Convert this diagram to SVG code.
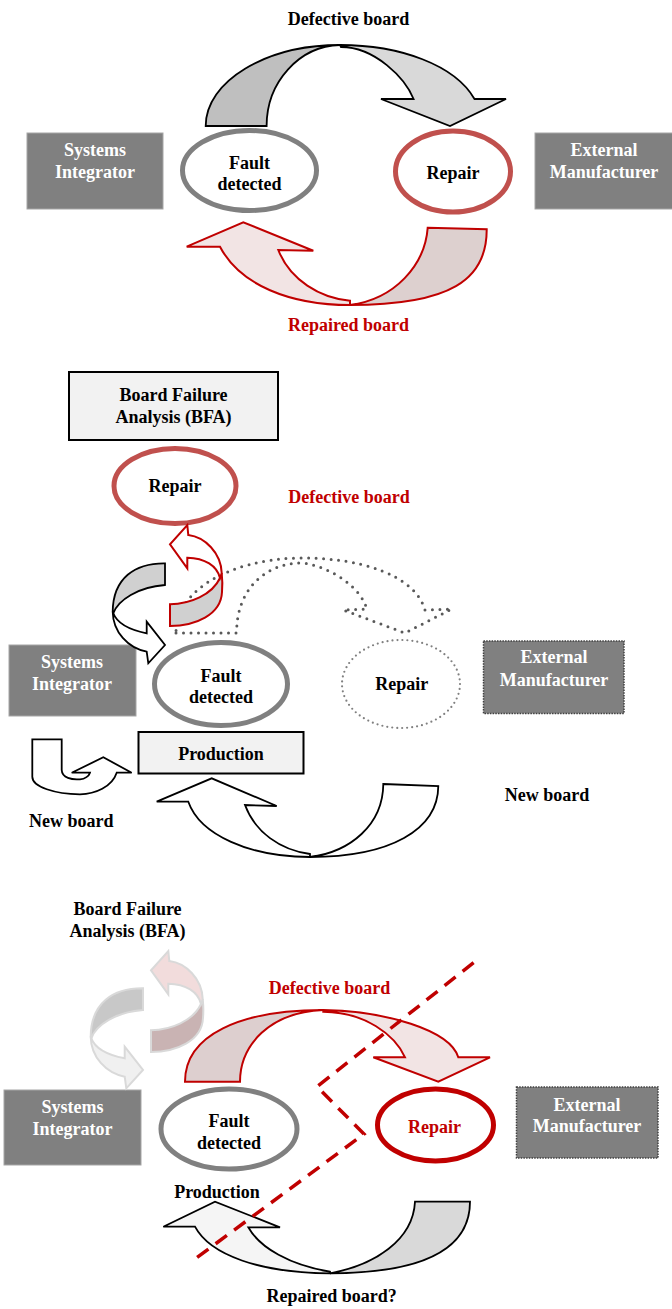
<svg xmlns="http://www.w3.org/2000/svg" width="672" height="1309" viewBox="0 0 672 1309">
<style>
.t{font-family:"Liberation Serif","Times New Roman",serif;font-weight:bold;font-size:18px;text-anchor:middle;fill:#000}
.tw{fill:#fff}
.tr{fill:#C00000}
.box{fill:#808080;stroke:#A6A6A6;stroke-width:1}
.boxd{fill:#808080;stroke:#404040;stroke-width:1.5;stroke-dasharray:1.5 1.2}
.lbox{fill:#F2F2F2;stroke:#000;stroke-width:2}
.eg{fill:#fff;stroke:#808080;stroke-width:5}
.er{fill:#fff;stroke:#C0504D;stroke-width:5}
.er2{fill:#fff;stroke:#C00000;stroke-width:5}
.edot{fill:#fff;stroke:#808080;stroke-width:2.2;stroke-dasharray:0 5;stroke-linecap:round}
.ab{stroke:#000;stroke-width:1.8;stroke-linejoin:miter}
.ar{stroke:#C00000;stroke-width:2;stroke-linejoin:miter}
.af{stroke:#D9D9D9;stroke-width:2;stroke-linejoin:miter}
.dot{fill:none;stroke:#595959;stroke-width:3;stroke-dasharray:0 7.5;stroke-linecap:round;stroke-linejoin:round}
.dash{fill:none;stroke:#C00000;stroke-width:3.5;stroke-dasharray:14 9}
</style>
<defs>
<path id="redBack" d="M170,604.3 C190,604 212,595 220,578 L221.7,573 C222.5,580 222.5,586 222,592 C221,615 195,626 170,626 Z"/>
<path id="redFront" d="M188.3,535 C205,537 221,553 221.7,573 L220,578 C217,566 205,558 187.3,557.7 L187.3,568.3 L170,544.3 L187.3,525 Z"/>
<path id="blkBack" d="M165,563.3 C135,563 113,578 112.7,611.7 L113.3,613.3 C118,600 138,587 165,585 Z"/>
<path id="blkFront" d="M112.7,611.7 C113,632 128,648 146.7,651.7 L148.3,663.3 L165,645 L146.7,621.7 L146.7,633.3 C130,630 117,623 113.3,613.3 Z"/>
</defs>

<!-- ===== Section 1 ===== -->
<g id="s1-si">
<rect class="box" x="27" y="133" width="136" height="76"/>
<text class="t tw" x="95" y="156">Systems</text>
<text class="t tw" x="95" y="177.5">Integrator</text>
</g>
<g id="s1-em">
<rect class="box" x="535" y="133" width="140" height="76"/>
<text class="t tw" x="604" y="156">External</text>
<text class="t tw" x="604" y="177.5">Manufacturer</text>
</g>
<g id="s1-fault">
<ellipse class="eg" cx="249.5" cy="170.5" rx="67" ry="40"/>
<text class="t" x="249.5" y="168.5">Fault</text>
<text class="t" x="249.5" y="189.5">detected</text>
</g>
<g id="s1-repair">
<ellipse class="er" cx="453" cy="171.5" rx="57.5" ry="40.5"/>
<text class="t" x="453" y="178.5">Repair</text>
</g>

<!-- ===== Section 2 ===== -->
<g id="s2-bfa">
<rect class="lbox" x="69" y="372" width="209" height="68"/>
<text class="t" x="173.5" y="400.7">Board Failure</text>
<text class="t" x="173.5" y="422.7">Analysis (BFA)</text>
</g>
<g id="s2-repair">
<ellipse class="er" cx="175" cy="486" rx="61" ry="37.5"/>
<text class="t" x="175" y="492">Repair</text>
</g>
<g id="s2-si">
<rect class="box" x="9" y="645" width="127" height="71"/>
<text class="t tw" x="72" y="668">Systems</text>
<text class="t tw" x="72" y="690">Integrator</text>
</g>
<g id="s2-fault">
<ellipse class="eg" cx="221" cy="684" rx="66.5" ry="41.5"/>
<text class="t" x="221" y="681.7">Fault</text>
<text class="t" x="221" y="702.7">detected</text>
</g>
<g id="s2-repair-ext">
<ellipse class="edot" cx="401" cy="684" rx="59" ry="44"/>
<text class="t" x="401.7" y="690">Repair</text>
</g>
<g id="s2-em">
<rect class="boxd" x="483.5" y="641" width="140.5" height="72.5"/>
<text class="t tw" x="554" y="663.3">External</text>
<text class="t tw" x="554" y="685.7">Manufacturer</text>
</g>
<g id="s2-production">
<rect class="lbox" x="138.5" y="732" width="165" height="41.5"/>
<text class="t" x="221" y="760">Production</text>
</g>

<!-- ===== Section 3 ===== -->
<g id="s3-bfa">
<text class="t" x="127.5" y="915">Board Failure</text>
<text class="t" x="127.5" y="936.7">Analysis (BFA)</text>
</g>
<g id="s3-si">
<rect class="box" x="4" y="1090" width="137" height="75"/>
<text class="t tw" x="72.4" y="1112.7">Systems</text>
<text class="t tw" x="72.4" y="1135">Integrator</text>
</g>
<g id="s3-fault">
<ellipse class="eg" cx="229" cy="1129" rx="68" ry="40"/>
<text class="t" x="229" y="1127.3">Fault</text>
<text class="t" x="229" y="1148.5">detected</text>
</g>
<g id="s3-repair">
<ellipse class="er2" cx="435.5" cy="1125" rx="58" ry="36"/>
<text class="t tr" x="434.5" y="1132.7">Repair</text>
</g>
<g id="s3-em">
<rect class="boxd" x="516.5" y="1087" width="141.5" height="71"/>
<text class="t tw" x="587" y="1110.7">External</text>
<text class="t tw" x="587" y="1131.7">Manufacturer</text>
</g>
<g id="s3-production">
<text class="t" x="217" y="1198">Production</text>
</g>

<!-- ===== Connectors ===== -->
<g id="connectors">
<!-- section 1: defective board arrow -->
<path class="ab" fill="#BFBFBF" d="M205.7,126 C205.7,81.3 265.8,45 340,45 C299.5,46 266.6,81.8 266.6,126 Z"/>
<path class="ab" fill="#D9D9D9" d="M340,45 C400,45 455,65 474.5,99 L506,99 L450,126 L381,99 L413.6,99 C405,78 375,47 341,47 Z"/>
<text class="t" x="348.5" y="25">Defective board</text>
<!-- section 1: repaired board arrow -->
<path class="ar" fill="#DDD0CF" d="M427.7,227.7 L486.7,229.3 C487,280 450,305 350,305 C395,299 425,265 427.7,227.7 Z"/>
<path class="ar" fill="#F2E4E4" d="M350,305 C290,305 240,285 220,246.7 L186.7,246.7 L243.3,222.3 L313.3,250.7 L278.3,250 C290,280 320,298 350,300.7 Z"/>
<text class="t tr" x="348.5" y="331">Repaired board</text>

<!-- section 2: dotted defective board arrow to external -->
<path class="dot" d="M176,633 L236.7,633 C236,595 260,563 303,563 C335,568 362,590 366.7,609 L343.3,610 L405,633 L451.7,609 L425,610 C415,575 360,557 297,558 C230,560 176,590 176,633 Z"/>
<text class="t tr" x="349" y="503">Defective board</text>
<!-- section 2: red loop arrow to repair -->
<use href="#redBack" class="ar" fill="#D0D0D0"/>
<use href="#redFront" class="ar" fill="#fff"/>
<!-- section 2: black loop arrow -->
<use href="#blkBack" class="ab" fill="#D0D0D0"/>
<use href="#blkFront" class="ab" fill="#fff"/>
<!-- section 2: U-turn new board arrow -->
<path class="ab" fill="#fff" d="M32.3,739.3 L61.7,739.3 L61.7,770 C62,778 72,780 80,779.3 C85,779 89,776 90,772.7 L71.7,772.7 L103.3,757.3 L131.7,772.7 L116.7,772.7 C112,787 95,794 80,794.3 C55,794 32.3,787 32.3,776.7 Z"/>
<text class="t" x="71.3" y="826.5">New board</text>
<!-- section 2: big new board arrow -->
<path class="ab" fill="#fff" d="M383.3,784 L438.3,786 C438,830 390,857 310,857 C350,852 383,825 383.3,784 Z"/>
<path class="ab" fill="#fff" d="M310,857 C250,857 200,835 188.3,801.7 L156.7,801.7 L211.7,778.3 L276.7,806 L245,805 C255,832 280,850 310,854 Z"/>
<text class="t" x="547" y="800.5">New board</text>

<!-- section 3: faded loop arrows -->
<g transform="translate(-19,426)">
<use href="#redBack" class="af" fill="#C9B3B3"/>
<use href="#redFront" class="af" fill="#F2DCDC"/>
</g>
<g transform="translate(-22,425)">
<use href="#blkBack" class="af" fill="#C8C8C8"/>
<use href="#blkFront" class="af" fill="#F0F0F0"/>
</g>
<!-- section 3: defective board arrow -->
<path class="ar" fill="#DDCFCF" d="M185,1081.7 C185,1035 240,1010 323.3,1010 C270,1012 240,1045 240,1081.7 Z"/>
<path class="ar" fill="#F2E4E4" d="M323.3,1010 C385,1011 450,1030 458.3,1057.3 L490,1057.3 L438.3,1081.7 L373.3,1057.3 L405,1057.3 C395,1035 365,1012 323.3,1011.7 Z"/>
<text class="t tr" x="329.5" y="994">Defective board</text>
<!-- section 3: repaired board? arrow -->
<path class="ab" fill="#D9D9D9" d="M415,1201.7 L470,1201.7 C470,1245 430,1273 330,1273.3 C375,1265 413,1240 415,1201.7 Z"/>
<path class="ab" fill="#F5F5F5" d="M330,1273.3 C260,1273 210,1255 195,1226.7 L163.3,1226.7 L215,1201.7 L280,1227.3 L248.3,1227.3 C260,1248 290,1265 330,1271.7 Z"/>
<text class="t" x="331.7" y="1301.7">Repaired board?</text>
<!-- section 3: boundary dashed line -->
<path class="dash" d="M473.6,962.7 L317,1086.7 L364,1134 L191,1262"/>
</g>
</svg>
